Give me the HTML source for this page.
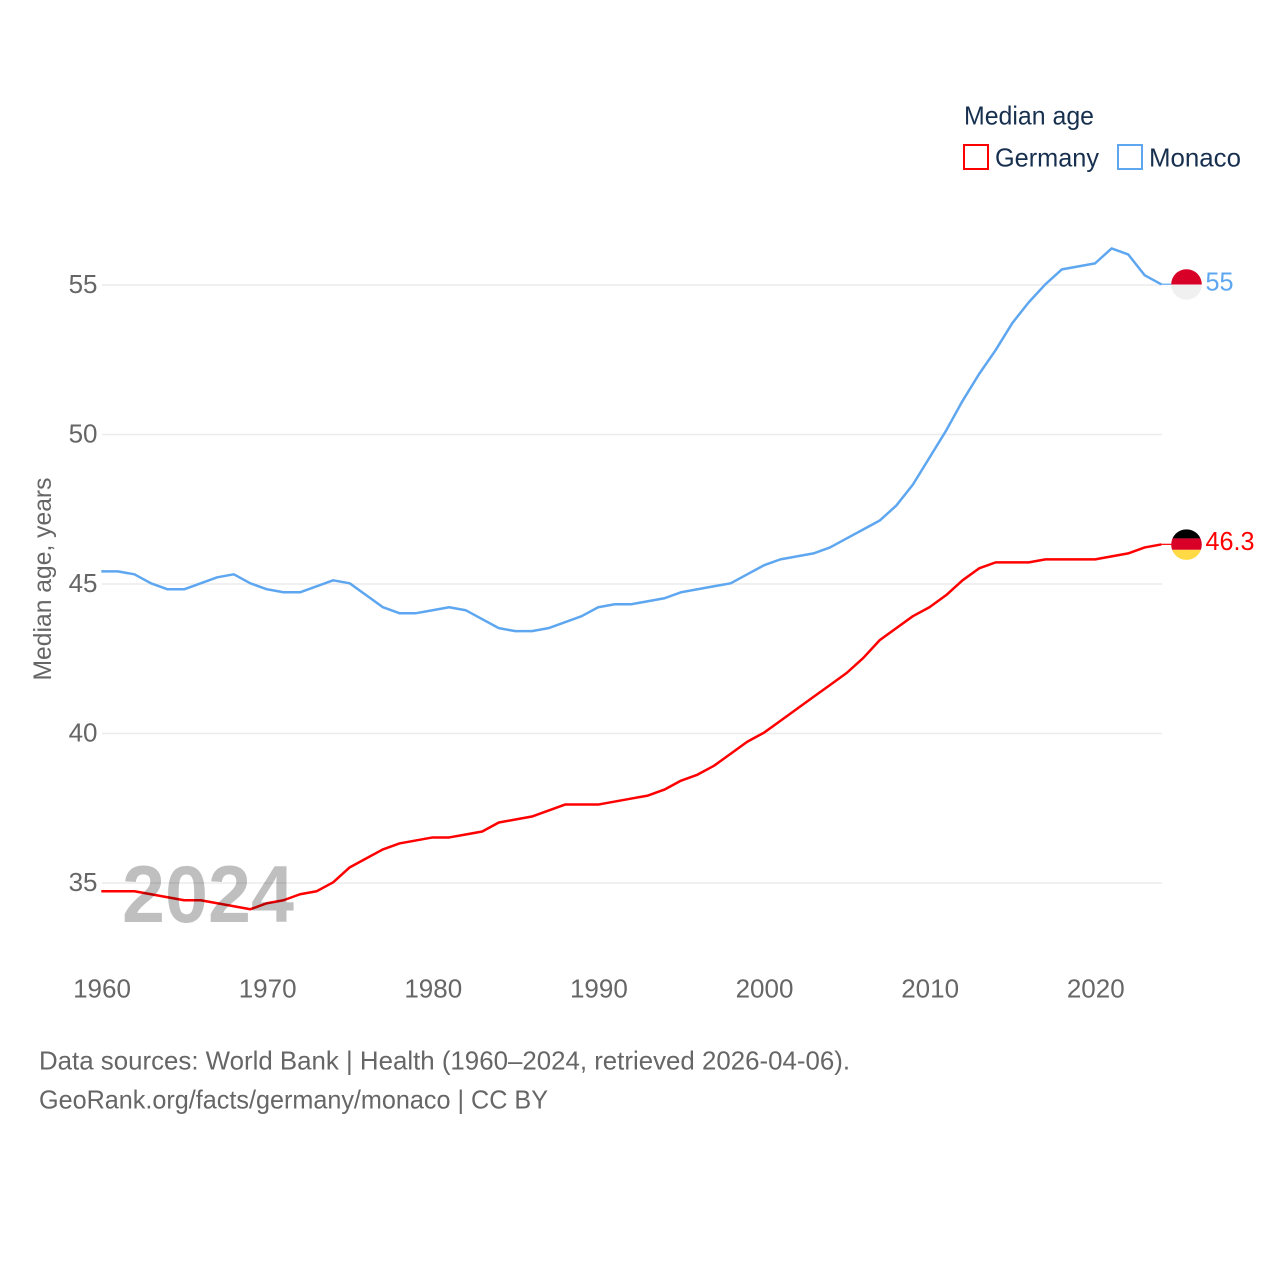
<!DOCTYPE html>
<html lang="en">
<head>
<meta charset="utf-8">
<title>Median age: Germany vs Monaco</title>
<style>
html,body{margin:0;padding:0;background:#fff;}
#chart{display:block;width:1280px;height:1280px;font-family:"Liberation Sans",sans-serif;}
</style>
</head>
<body>
<svg id="chart" xmlns="http://www.w3.org/2000/svg" width="1280" height="1280" viewBox="0 0 1280 1280">
  <defs>
    <clipPath id="flag-clip"><circle cx="0" cy="0" r="15.3"></circle></clipPath>
  </defs>
  <rect x="0" y="0" width="1280" height="1280" fill="#ffffff"></rect>
  <g id="grid"></g>
  <g id="y-ticks"></g>
  <g id="x-ticks"></g>
  <text transform="translate(51 579) rotate(-90)" text-anchor="middle" font-size="25" fill="#666666" textLength="203" lengthAdjust="spacingAndGlyphs">Median age, years</text>
  <g id="series" transform="translate(-0.7 -0.7)"></g>
  <text x="122" y="922" font-size="81" font-weight="700" fill="#000000" fill-opacity="0.25" textLength="172" lengthAdjust="spacingAndGlyphs">2024</text>
  <g id="end-markers"></g>
  <g>
    <text x="964" y="124.5" font-size="26" fill="#18304f" textLength="130" lengthAdjust="spacingAndGlyphs">Median age</text>
    <rect x="964" y="145" width="24" height="24" fill="none" stroke="#ff0000" stroke-width="2"></rect>
    <text x="995" y="166.5" font-size="26" fill="#18304f" textLength="104" lengthAdjust="spacingAndGlyphs">Germany</text>
    <rect x="1118" y="145" width="24" height="24" fill="none" stroke="#5ea7f0" stroke-width="2"></rect>
    <text x="1149" y="166.5" font-size="26" fill="#18304f" textLength="92" lengthAdjust="spacingAndGlyphs">Monaco</text>
  </g>
  <g>
    <text x="39" y="1069.5" font-size="26" fill="#666666" textLength="811" lengthAdjust="spacingAndGlyphs">Data sources: World Bank | Health (1960–2024, retrieved 2026-04-06).</text>
    <text x="39" y="1108.5" font-size="26" fill="#666666" textLength="509" lengthAdjust="spacingAndGlyphs">GeoRank.org/facts/germany/monaco | CC BY</text>
  </g>
</svg>
<script>
const startYear = 1960;
const xTickLabels = [1960, 1970, 1980, 1990, 2000, 2010, 2020];
const yTickLabels = [35, 40, 45, 50, 55];
const germanyValues = [34.7,34.7,34.7,34.6,34.5,34.4,34.4,34.3,34.2,34.1,34.3,34.4,34.6,34.7,35.0,35.5,35.8,36.1,36.3,36.4,36.5,36.5,36.6,36.7,37.0,37.1,37.2,37.4,37.6,37.6,37.6,37.7,37.8,37.9,38.1,38.4,38.6,38.9,39.3,39.7,40.0,40.4,40.8,41.2,41.6,42.0,42.5,43.1,43.5,43.9,44.2,44.6,45.1,45.5,45.7,45.7,45.7,45.8,45.8,45.8,45.8,45.9,46.0,46.2,46.3];
const monacoValues = [45.4,45.4,45.3,45.0,44.8,44.8,45.0,45.2,45.3,45.0,44.8,44.7,44.7,44.9,45.1,45.0,44.6,44.2,44.0,44.0,44.1,44.2,44.1,43.8,43.5,43.4,43.4,43.5,43.7,43.9,44.2,44.3,44.3,44.4,44.5,44.7,44.8,44.9,45.0,45.3,45.6,45.8,45.9,46.0,46.2,46.5,46.8,47.1,47.6,48.3,49.2,50.1,51.1,52.0,52.8,53.7,54.4,55.0,55.5,55.6,55.7,56.2,56.0,55.3,55.0];
const germanyLabel = "46.3";
const monacoLabel = "55";

const NS = "http://www.w3.org/2000/svg";
const xScale = year => 102 + (year - 1960) * (1060 / 64);
const yScale = value => 883 - (value - 35) * 29.9;

function make(tag, attrs, parent, text) {
  const el = document.createElementNS(NS, tag);
  for (const k in attrs) el.setAttribute(k, attrs[k]);
  if (text !== undefined) el.textContent = text;
  parent.appendChild(el);
  return el;
}

const gridGroup = document.getElementById("grid");
const yTickGroup = document.getElementById("y-ticks");
yTickLabels.forEach(v => {
  const line = make("line", {x1: 102, x2: 1162, y1: yScale(v), y2: yScale(v), stroke: "#ebebeb", "stroke-width": 1.5}, gridGroup);
  
  
  const label = make("text", {x: 97.5, y: yScale(v) + 8, "text-anchor": "end", "font-size": 26, fill: "#666666"}, yTickGroup, String(v));
  
  
});

const xTickGroup = document.getElementById("x-ticks");
xTickLabels.forEach(year => {
  const label = make("text", {x: xScale(year), y: 997.5, "text-anchor": "middle", "font-size": 26, fill: "#666666"}, xTickGroup, String(year));
  
  
});

function linePoints(values) {
  return values.map((v, i) => xScale(startYear + i).toFixed(2) + "," + yScale(v).toFixed(2)).join(" ");
}

const seriesGroup = document.getElementById("series");
const germanyLine = make("polyline", {points: linePoints(germanyValues), fill: "none", stroke: "#ff0000", "stroke-width": 2.5, "stroke-linejoin": "round"}, seriesGroup);


const monacoLine = make("polyline", {points: linePoints(monacoValues), fill: "none", stroke: "#5ea7f0", "stroke-width": 2.5, "stroke-linejoin": "round"}, seriesGroup);



const markers = document.getElementById("end-markers");
const lastX = xScale(startYear + germanyValues.length - 1);
const flagX = lastX + 24.5;

/* Germany end marker */
const gy = yScale(germanyValues[germanyValues.length - 1]) - 0.5;
const gConnector = make("line", {x1: lastX - 1, x2: flagX - 15, y1: gy - 0.3, y2: gy - 0.3, stroke: "#ff0000", "stroke-width": 1.2}, markers);


const gFlag = make("g", {transform: "translate(" + flagX + " " + gy + ")", "clip-path": "url(#flag-clip)"}, markers);


make("rect", {x: -16, y: -16, width: 32, height: 9.8, fill: "#000000"}, gFlag);
make("rect", {x: -16, y: -6.2, width: 32, height: 11.4, fill: "#d80027"}, gFlag);
make("rect", {x: -16, y: 5.2, width: 32, height: 11, fill: "#ffda44"}, gFlag);
const gLabel = make("text", {x: flagX + 19, y: gy + 5.5, "font-size": 26, fill: "#ff0000", textLength: 49, lengthAdjust: "spacingAndGlyphs"}, markers, germanyLabel);



/* Monaco end marker */
const my = yScale(monacoValues[monacoValues.length - 1]) - 0.5;
const mConnector = make("line", {x1: lastX - 1, x2: flagX - 15, y1: my - 0.3, y2: my - 0.3, stroke: "#5ea7f0", "stroke-width": 1.2}, markers);


const mFlag = make("g", {transform: "translate(" + flagX + " " + my + ")", "clip-path": "url(#flag-clip)"}, markers);


make("rect", {x: -16, y: -16, width: 32, height: 16, fill: "#d80027"}, mFlag);
make("rect", {x: -16, y: 0, width: 32, height: 16, fill: "#f0f0f0"}, mFlag);
const mLabel = make("text", {x: flagX + 19, y: my + 6, "font-size": 26, fill: "#5ea7f0", textLength: 28, lengthAdjust: "spacingAndGlyphs"}, markers, monacoLabel);


</script>
</body>
</html>
